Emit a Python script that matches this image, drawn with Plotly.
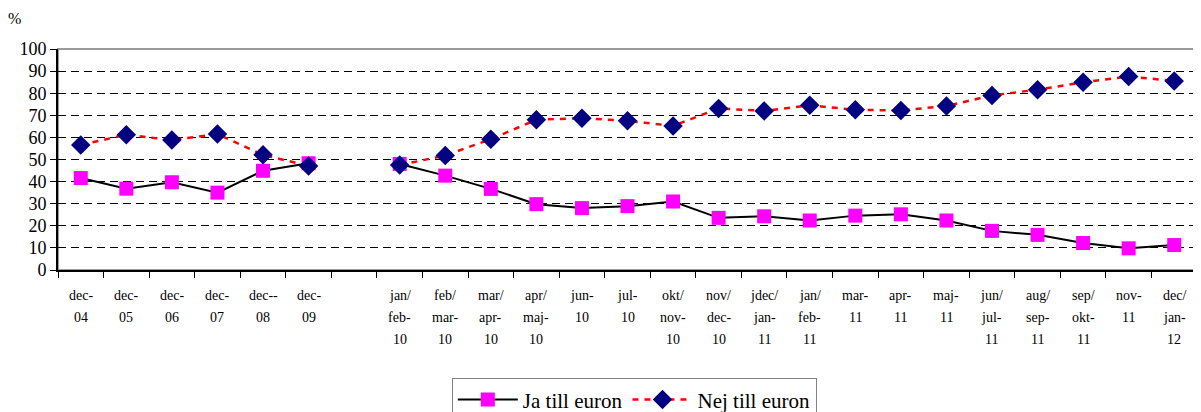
import plotly.graph_objects as go

categories = ["dec-<br>04", "dec-<br>05", "dec-<br>06", "dec-<br>07", "dec--<br>08", "dec-<br>09", " ",
              "jan/<br>feb-<br>10", "feb/<br>mar-<br>10", "mar/<br>apr-<br>10", "apr/<br>maj-<br>10",
              "jun-<br>10", "jul-<br>10", "okt/<br>nov-<br>10", "nov/<br>dec-<br>10", "jdec/<br>jan-<br>11",
              "jan/<br>feb-<br>11", "mar-<br>11", "apr-<br>11", "maj-<br>11", "jun/<br>jul-<br>11",
              "aug/<br>sep-<br>11", "sep/<br>okt-<br>11", "nov-<br>11", "dec/<br>jan-<br>12"]

ja_values = [41.6, 36.8, 39.7, 35.0, 44.9, 48.3, None,
             48.0, 42.7, 36.7, 29.8, 28.0, 28.9, 31.0, 23.6, 24.3,
             22.4, 24.6, 25.2, 22.4, 17.7, 15.9, 12.2, 9.8, 11.3]

nej_values = [56.6, 61.2, 58.8, 61.5, 52.1, 47.1, None,
              47.5, 51.8, 59.2, 68.0, 68.7, 67.5, 65.2, 73.1, 72.0,
              74.5, 72.5, 72.2, 74.2, 79.0, 81.6, 84.9, 87.6, 85.5]

y_ticks = list(range(0, 101, 10))

serif = "Times New Roman, Liberation Serif, DejaVu Serif, serif"

fig = go.Figure()
fig.add_trace(go.Scatter(
    x=categories, y=ja_values, name="Ja till euron", mode="lines+markers",
    line=dict(color="black", width=2),
    marker=dict(symbol="square", size=14, color="#FF00FF", line=dict(width=0)),
    connectgaps=False,
))
fig.add_trace(go.Scatter(
    x=categories, y=nej_values, name="Nej till euron", mode="lines+markers",
    line=dict(color="#FF0000", width=2.5, dash="6px,6px"),
    marker=dict(symbol="diamond", size=15, color="#000080", line=dict(width=0)),
    connectgaps=False,
))

# multi-line category labels drawn as annotations (Excel-like line spacing)
annotations = []
for cat in categories:
    for k, part in enumerate(cat.split("<br>")):
        annotations.append(dict(
            text=part, x=cat, xref="x", y=0, yref="paper", yanchor="top", xanchor="center",
            yshift=-16 - 22 * k, showarrow=False, font=dict(size=14, family=serif, color="black")))
annotations.append(dict(text="%", xref="paper", yref="paper", x=-0.038, y=1.14,
                        showarrow=False, xanchor="center", yanchor="middle",
                        font=dict(size=16, family=serif, color="black")))

# page body has an 8px margin, so the figure is sized/offset to compensate
fig.update_layout(
    width=1193, height=404,
    margin=dict(l=50, r=4, t=41, b=142, autoexpand=False),
    paper_bgcolor="white", plot_bgcolor="white",
    font=dict(family=serif, color="black"),
    showlegend=True,
    legend=dict(orientation="h", x=0.506, xanchor="center", y=-0.49, yanchor="top",
                bordercolor="#808080", borderwidth=1, font=dict(size=21, family=serif),
                itemwidth=60, tracegroupgap=0),
    shapes=[dict(type="rect", xref="paper", yref="paper", x0=0, x1=1, y0=0, y1=1,
                 line=dict(color="#9a9a9a", width=2), layer="below")],
    annotations=annotations,
)
fig.update_xaxes(
    type="category", categoryorder="array", categoryarray=categories,
    tickson="boundaries", ticks="outside", ticklen=6, tickcolor="black", tickwidth=1,
    showline=True, linecolor="black", linewidth=2, showgrid=False,
    showticklabels=False, range=[-0.5, 24.5],
)
fig.update_yaxes(
    range=[0, 100], tickvals=y_ticks, ticks="outside", ticklen=6, tickcolor="black",
    showline=True, linecolor="black", linewidth=2,
    showgrid=True, gridcolor="black", gridwidth=1, griddash="8px,5px",
    tickfont=dict(size=18, family=serif), zeroline=False,
)

fig.write_html("out.html")
